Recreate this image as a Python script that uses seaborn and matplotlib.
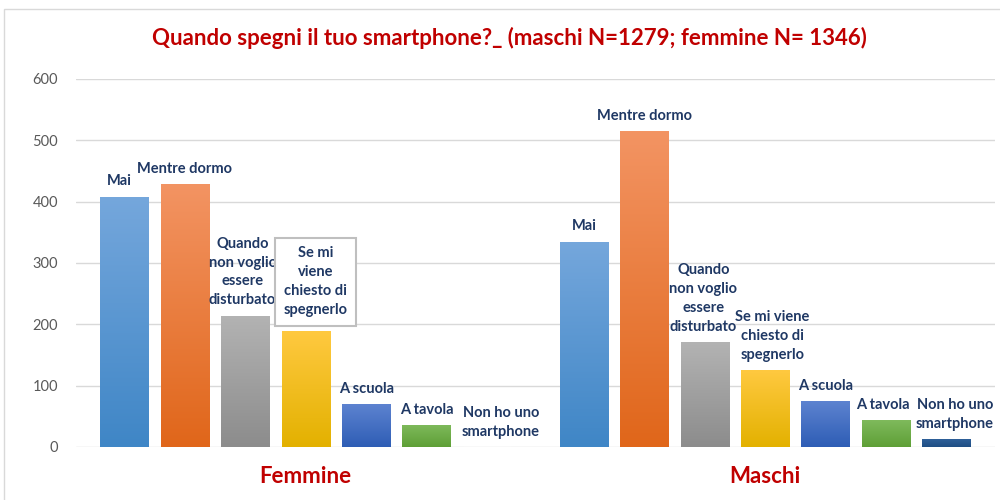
import numpy as np
import pandas as pd
import matplotlib
matplotlib.use("Agg")
import matplotlib.pyplot as plt
import seaborn as sns
from matplotlib.colors import LinearSegmentedColormap
from matplotlib.patches import Rectangle

# data
groups = ["Femmine", "Maschi"]
answers = ["Mai", "Mentre dormo", "Quando non voglio essere disturbato",
           "Se mi viene chiesto di spegnerlo", "A scuola", "A tavola",
           "Non ho uno smartphone"]
femmine = [408, 429, 214, 189, 70, 36, 0]
maschi = [335, 515, 171, 125, 75, 44, 13]

# bar labels as wrapped in the picture
labels_femmine = ["Mai", "Mentre dormo", "Quando\nnon voglio\nessere\ndisturbato",
                  "Se mi\nviene\nchiesto di\nspegnerlo", "A scuola", "A tavola",
                  "Non ho uno\nsmartphone"]
labels_maschi = ["Mai", "Mentre dormo", "Quando\nnon voglio\nessere\ndisturbato",
                 "Se mi viene\nchiesto di\nspegnerlo", "A scuola", "A tavola",
                 "Non ho uno\nsmartphone"]

# gradient colours, top -> bottom
top_colors = ["#75A7DC", "#F39463", "#B3B3B3", "#FFC940", "#5D83D0", "#7FBA5C", "#2E6099"]
bottom_colors = ["#3F86C6", "#E0661A", "#8C8C8C", "#E3B100", "#2E5DB5", "#5E9F36", "#1F4E84"]

title_red = "#C00000"
navy = "#1F3864"

df = pd.DataFrame({
    "gruppo": [g for g in groups for _ in answers],
    "risposta": answers * len(groups),
    "n": femmine + maschi,
})

sns.set_style("white")
plt.rcParams["font.family"] = ["Lato", "DejaVu Sans"]

fig = plt.figure(figsize=(10, 5), dpi=100)
ax = fig.add_axes([0.076, 0.106, 0.919, 0.736])

sns.barplot(data=df, x="gruppo", y="n", hue="risposta", order=groups,
            hue_order=answers, palette=bottom_colors, width=0.92, gap=0.2,
            legend=False, ax=ax, zorder=2)

# vertical gradient fill, Excel style
grad = np.linspace(0, 1, 256).reshape(-1, 1)
for i, cont in enumerate(ax.containers):
    cmap = LinearSegmentedColormap.from_list(f"g{i}", [bottom_colors[i], top_colors[i]])
    for bar in cont:
        h = bar.get_height()
        if h <= 0:
            continue
        x0, w = bar.get_x(), bar.get_width()
        im = ax.imshow(grad, cmap=cmap, origin="lower", aspect="auto",
                       extent=[x0, x0 + w, 0, h], zorder=2)
        im.set_clip_path(bar)
        bar.set_facecolor("none")
        bar.set_edgecolor("none")

ax.set_xlim(-0.5, 1.5)
ax.set_ylim(0, 600)
ax.set_yticks(range(0, 601, 100))
ax.grid(axis="y", color="#D9D9D9", linewidth=1)
ax.set_axisbelow(True)
for s in ax.spines.values():
    s.set_visible(False)
ax.tick_params(axis="y", length=0, pad=13, labelsize=10.5, labelcolor="#595959")
ax.tick_params(axis="x", length=0, pad=14)
for t in ax.get_xticklabels():
    t.set_fontsize(16)
    t.set_fontweight("bold")
    t.set_color(title_red)
ax.set_xlabel("")
ax.set_ylabel("")

# bar labels
shift_f = [-3.5, 0, -2, 7, 0, 0, 10]
shift_m = [0, 0, -1, 5, 0, -2, 6]
for gi, (labels, shifts) in enumerate([(labels_femmine, shift_f), (labels_maschi, shift_m)]):
    for i, txt in enumerate(labels):
        bar = ax.containers[i][gi]
        x = bar.get_x() + bar.get_width() / 2
        y = bar.get_height()
        boxed = gi == 0 and i == 3
        ax.annotate(txt, (x, y), xytext=(shifts[i], 10 if boxed else 6),
                    textcoords="offset points", ha="center", va="bottom",
                    fontsize=10.5, fontweight="bold", color=navy,
                    linespacing=1.45, zorder=5,
                    bbox=dict(boxstyle="square,pad=0.6", fc="white",
                              ec="#BFBFBF", lw=1.5) if boxed else None)

fig.text(0.509, 0.924, "Quando spegni il tuo smartphone?_ (maschi N=1279; femmine N= 1346)",
         ha="center", va="center", fontsize=16, fontweight="bold", color=title_red)

fig.patches.append(Rectangle((0.004, -0.05), 1.5, 1.032, transform=fig.transFigure,
                             fill=False, edgecolor="#D9D9D9", linewidth=1))

fig.savefig("out.png", dpi=100)
